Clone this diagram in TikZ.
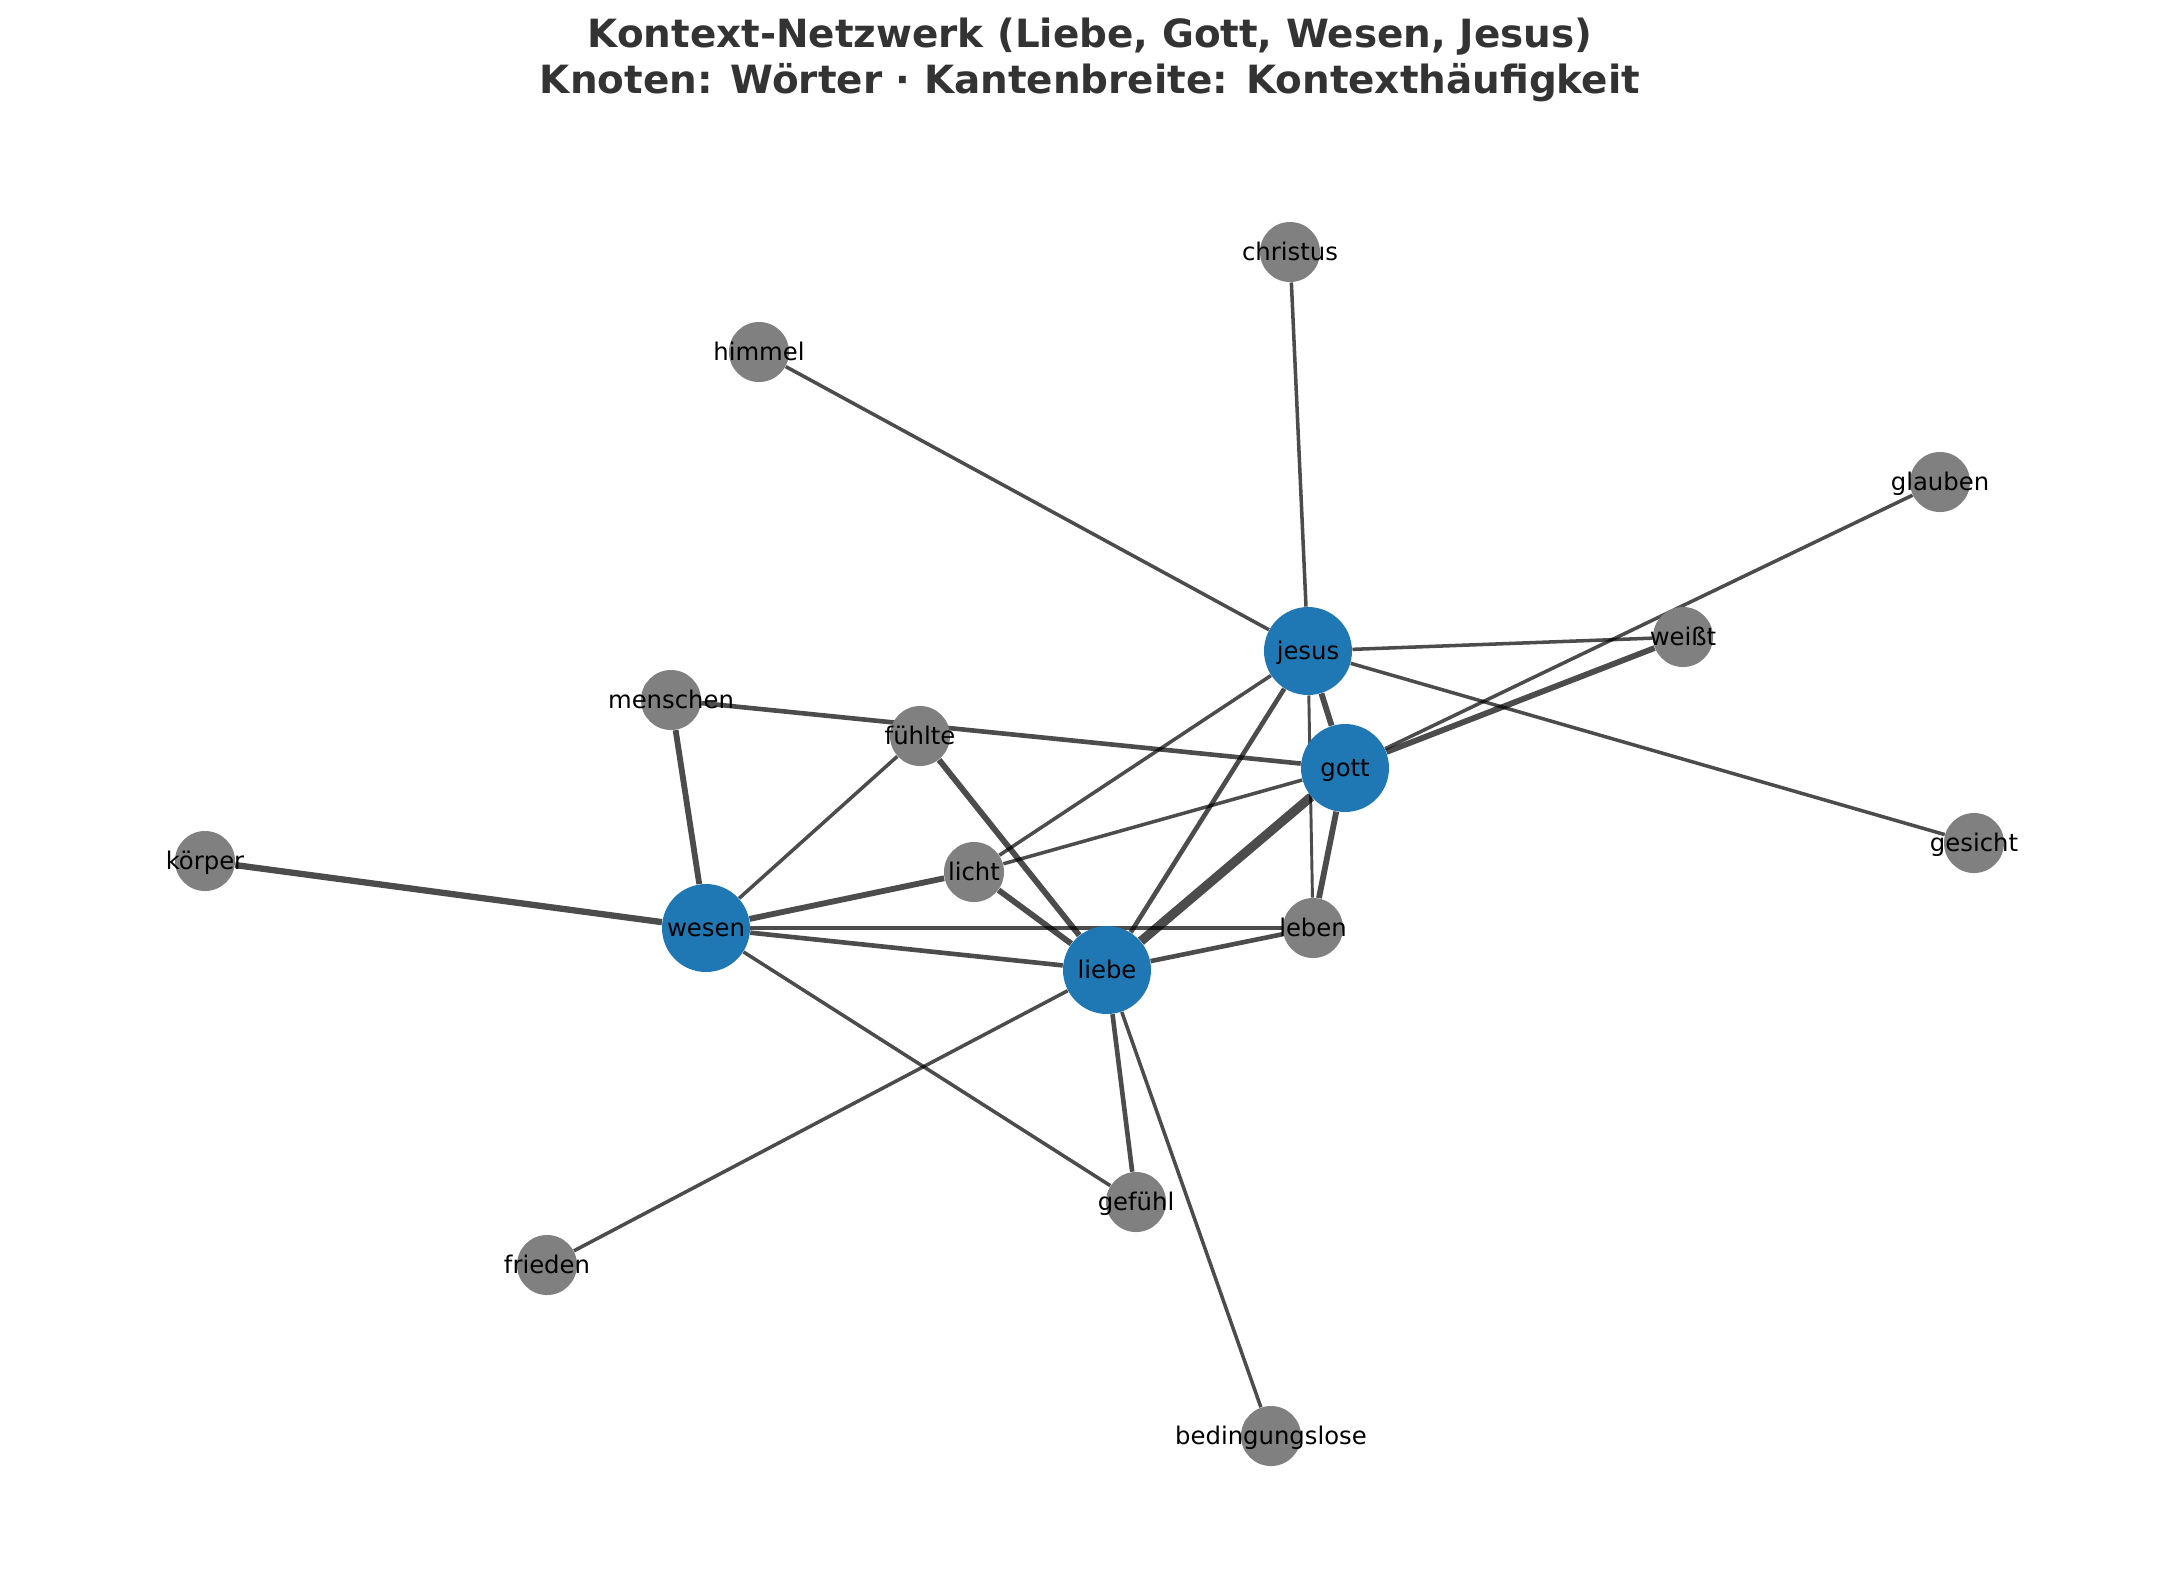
\documentclass[tikz,border=0pt]{standalone}
\usepackage{fontspec}
\setmainfont{DejaVu Sans}
\usetikzlibrary{backgrounds}
\definecolor{nblue}{HTML}{1F77B4}
\definecolor{ngray}{HTML}{808080}
\definecolor{ttl}{HTML}{333333}
\begin{document}
\begin{tikzpicture}[x=0.4114pt,y=-0.4114pt,
  big/.style={circle,fill=nblue,draw=none,minimum size=36.2pt,inner sep=0pt},
  small/.style={circle,fill=ngray,draw=none,minimum size=24.7pt,inner sep=0pt},
  lbl/.style={font=\fontsize{10}{12}\selectfont,text=black,inner sep=0pt,text height=0.9em,text depth=0.22em},
  ttlstyle/.style={font=\fontsize{16}{19}\selectfont\bfseries,text=ttl,inner sep=0pt,anchor=base},
  edge/.style={draw=black,draw opacity=0.7},
  e1/.style={edge,line width=1.45pt},
  e2/.style={edge,line width=1.9pt},
  e3/.style={edge,line width=2.4pt},
  e4/.style={edge,line width=3.8pt}]
\useasboundingbox (0,0) rectangle (2179,1580);
% title
\node[ttlstyle] (t1) at (1090,47) {Kontext-Netzwerk (Liebe, Gott, Wesen, Jesus)};
\node[ttlstyle] (t2) at (1090,93) {Knoten: Wörter · Kantenbreite: Kontexthäufigkeit};
% nodes
\node[big] (jesus) at (1308,651) {};
\node[big] (gott) at (1345,768) {};
\node[big] (liebe) at (1107,970) {};
\node[big] (wesen) at (706,928) {};
\node[small] (leben) at (1313,928) {};
\node[small] (licht) at (974,872) {};
\node[small] (fuehlte) at (920,736) {};
\node[small] (menschen) at (671,700) {};
\node[small] (christus) at (1290,252) {};
\node[small] (himmel) at (759,352) {};
\node[small] (glauben) at (1940,482) {};
\node[small] (weisst) at (1683,637) {};
\node[small] (gesicht) at (1974,843) {};
\node[small] (koerper) at (205,861) {};
\node[small] (gefuehl) at (1136,1202) {};
\node[small] (frieden) at (547,1265) {};
\node[small] (bedingungslose) at (1271,1436) {};
% edges
\begin{scope}[on background layer]
\draw[e1] (christus) -- (jesus);
\draw[e1] (himmel) -- (jesus);
\draw[e1] (glauben) -- (gott);
\draw[e1] (jesus) -- (weisst);
\draw[e3] (gott) -- (weisst);
\draw[e1] (jesus) -- (gesicht);
\draw[e3] (jesus) -- (gott);
\draw[edge,line width=1.2pt] (jesus) -- (leben);
\draw[e1] (jesus) -- (licht);
\draw[e2] (jesus) -- (liebe);
\draw[e2] (menschen) -- (gott);
\draw[e1] (gott) -- (licht);
\draw[e4] (gott) -- (liebe);
\draw[e3] (gott) -- (leben);
\draw[e3] (wesen) -- (menschen);
\draw[e1] (wesen) -- (fuehlte);
\draw[edge,line width=2.6pt] (wesen) -- (koerper);
\draw[e3] (wesen) -- (licht);
\draw[edge,line width=1.7pt] (wesen) -- (leben);
\draw[e2] (wesen) -- (liebe);
\draw[e1] (wesen) -- (gefuehl);
\draw[e3] (fuehlte) -- (liebe);
\draw[e3] (licht) -- (liebe);
\draw[e2] (liebe) -- (leben);
\draw[e1] (liebe) -- (frieden);
\draw[e2] (liebe) -- (gefuehl);
\draw[e1] (liebe) -- (bedingungslose);
\end{scope}
% labels
\node[lbl] (l-jesus) at (jesus) {jesus};
\node[lbl] (l-gott) at (gott) {gott};
\node[lbl] (l-liebe) at (liebe) {liebe};
\node[lbl] (l-wesen) at (wesen) {wesen};
\node[lbl] (l-leben) at (leben) {leben};
\node[lbl] (l-licht) at (licht) {licht};
\node[lbl] (l-fuehlte) at (fuehlte) {fühlte};
\node[lbl] (l-menschen) at (menschen) {menschen};
\node[lbl] (l-christus) at (christus) {christus};
\node[lbl] (l-himmel) at (himmel) {himmel};
\node[lbl] (l-glauben) at (glauben) {glauben};
\node[lbl] (l-weisst) at (weisst) {weißt};
\node[lbl] (l-gesicht) at (gesicht) {gesicht};
\node[lbl] (l-koerper) at (koerper) {körper};
\node[lbl] (l-gefuehl) at (gefuehl) {gefühl};
\node[lbl] (l-frieden) at (frieden) {frieden};
\node[lbl] (l-bedingungslose) at (bedingungslose) {bedingungslose};
\end{tikzpicture}
\end{document}
